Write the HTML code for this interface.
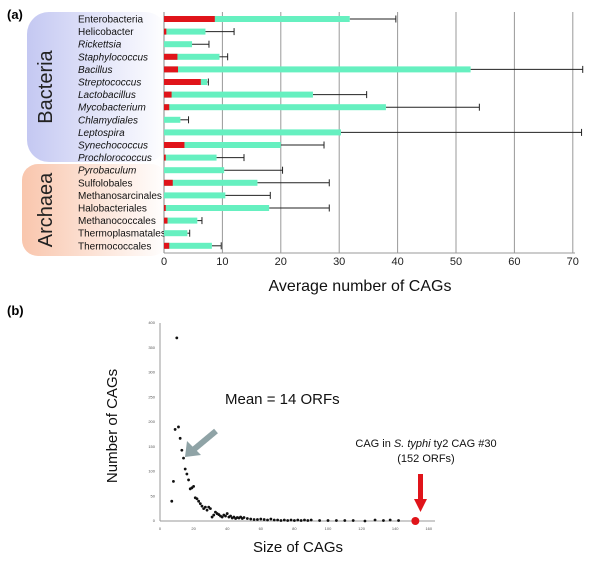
<!DOCTYPE html>
<html><head><meta charset="utf-8"><style>
body{margin:0;background:#fff;font-family:"Liberation Sans",sans-serif}
svg text{font-family:"Liberation Sans",sans-serif}
</style></head><body>
<svg width="600" height="562" viewBox="0 0 600 562">
<defs>
<linearGradient id="gb" x1="0" x2="1"><stop offset="0" stop-color="#c4c8f2"/><stop offset="1" stop-color="#fff"/></linearGradient>
<linearGradient id="ga" x1="0" x2="1"><stop offset="0" stop-color="#f9c6ad"/><stop offset="1" stop-color="#fff"/></linearGradient>
</defs>
<text x="7" y="19" font-size="13" font-weight="bold">(a)</text>
<rect x="27" y="12" width="140" height="150" rx="22" fill="url(#gb)"/>
<rect x="22" y="164" width="145" height="92" rx="16" fill="url(#ga)"/>
<text transform="translate(52,87) rotate(-90)" font-size="20" text-anchor="middle" fill="#222">Bacteria</text>
<text transform="translate(52,210) rotate(-90)" font-size="20" text-anchor="middle" fill="#222">Archaea</text>
<g id="gA"></g>
<text x="360" y="291" font-size="16" text-anchor="middle" fill="#111">Average number of CAGs</text>
<text x="7" y="315" font-size="13" font-weight="bold">(b)</text>
<g id="gB"></g>
<text transform="translate(117,426) rotate(-90)" font-size="15" text-anchor="middle" fill="#111">Number of CAGs</text>
<text x="298" y="552" font-size="15" text-anchor="middle" fill="#111">Size of CAGs</text>
<text x="225" y="404" font-size="15" fill="#111">Mean = 14 ORFs</text>
<g>
<line x1="216" y1="431" x2="192" y2="451" stroke="#8fa3a6" stroke-width="6"/>
<polygon points="185,457 187,441 201,455" fill="#8fa3a6"/>
</g>
<text x="426" y="447" font-size="11" text-anchor="middle" fill="#111">CAG in <tspan font-style="italic">S. typhi</tspan> ty2 CAG #30</text>
<text x="426" y="462" font-size="11" text-anchor="middle" fill="#111">(152 ORFs)</text>
<g>
<rect x="418" y="474" width="5" height="28" fill="#e0141a"/>
<polygon points="414,499 427,499 420.5,512" fill="#e0141a"/>
</g>
</svg>
<script>
const taxa=["Enterobacteria","Helicobacter","Rickettsia","Staphylococcus","Bacillus","Streptococcus","Lactobacillus","Mycobacterium","Chlamydiales","Leptospira","Synechococcus","Prochlorococcus","Pyrobaculum","Sulfolobales","Methanosarcinales","Halobacteriales","Methanococcales","Thermoplasmatales","Thermococcales"];
const italic=[0,0,1,1,1,1,1,1,1,1,1,1,1,0,0,0,0,0,0];
const redVals=[8.7,0.4,0,2.3,2.4,6.3,1.3,0.9,0,0,3.5,0.3,0,1.5,0,0.3,0.6,0,0.9];
const totalVals=[31.8,7.1,4.8,9.5,52.5,7.4,25.5,38,2.8,30.3,20,9,10.3,16,10.5,18,5.7,4,8.2];
const errVals=[39.7,12,7.7,10.9,71.7,7.6,34.7,54,4.2,71.5,27.4,13.7,20.3,28.3,18.2,28.3,6.5,4.4,9.8];
const xTicksA=[0,10,20,30,40,50,60,70];
const sizes=[7,8,9,10,11,12,13,14,15,16,17,18,19,20,21,22,23,24,25,26,27,28,29,30,31,32,33,34,35,36,37,38,39,40,41,42,43,44,45,46,47,48,49,50,52,54,56,58,60,62,64,66,68,70,72,74,76,78,80,82,84,86,88,90,95,100,105,110,115,122,128,133,137,142];
const counts=[40,80,185,370,190,167,143,127,105,95,83,65,67,70,47,45,40,35,30,25,28,22,28,25,8,12,18,15,13,10,8,12,10,15,8,10,6,8,5,7,6,8,5,7,5,4,3,3,4,3,2,4,2,2,1,2,1,2,1,2,1,2,1,2,1,1,1,1,1,0,2,1,2,1];
const highlight=[152,0];
const xTicksB=[0,20,40,60,80,100,120,140,160];
const yTicksB=[0,50,100,150,200,250,300,350,400];
const NS="http://www.w3.org/2000/svg";
function mk(p,t,a){const e=document.createElementNS(NS,t);for(const k in a)e.setAttribute(k,a[k]);p.appendChild(e);return e;}
const gA=document.getElementById('gA');
const xA=v=>164+v*5.84, yA=i=>19+i*12.6;
xTicksA.forEach(t=>{
 const l=mk(gA,'line',{x1:xA(t),x2:xA(t),y1:12,y2:253,stroke:t==0?'#888':'#999','stroke-width':1});
 
 
 const tx=mk(gA,'text',{x:xA(t),y:265,'font-size':11,'text-anchor':'middle',fill:'#222'});tx.textContent=t;
 
 
});
mk(gA,'line',{x1:164,x2:575,y1:253,y2:253,stroke:'#999'});
taxa.forEach((n,i)=>{
 const y=yA(i);
 const lb=mk(gA,'text',{x:78,y:y+3.5,'font-size':10,fill:'#111','font-style':italic[i]?'italic':'normal'});lb.textContent=n;
 
 
 const er=mk(gA,'line',{x1:xA(totalVals[i]),x2:xA(errVals[i]),y1:y,y2:y,stroke:'#222','stroke-width':1});
 
 
 mk(gA,'line',{x1:xA(errVals[i]),x2:xA(errVals[i]),y1:y-3.5,y2:y+3.5,stroke:'#222','stroke-width':1});
 const g=mk(gA,'rect',{x:xA(0),y:y-3,width:xA(totalVals[i])-xA(0),height:6,fill:'#66f0c0'});
 
 
 if(redVals[i]>0){const r=mk(gA,'rect',{x:xA(0),y:y-3,width:xA(redVals[i])-xA(0),height:6,fill:'#e0141a'});
 
 }
});
const gB=document.getElementById('gB');
const xB=v=>160+v*1.68, yB=v=>521-v*0.495;
mk(gB,'line',{x1:160,x2:435,y1:521,y2:521,stroke:'#999'});
mk(gB,'line',{x1:160,x2:160,y1:yB(400),y2:521,stroke:'#999'});
xTicksB.forEach(t=>{const tx=mk(gB,'text',{x:xB(t),y:530,'font-size':4,'text-anchor':'middle',fill:'#555'});tx.textContent=t;
 
 });
yTicksB.forEach(t=>{const tx=mk(gB,'text',{x:155,y:yB(t)+1,'font-size':4,'text-anchor':'end',fill:'#555'});tx.textContent=t;
 
 });
sizes.forEach((s,i)=>{const c=mk(gB,'circle',{cx:xB(s),cy:yB(counts[i]),r:1.4,fill:'#111'});
 
 });
const hc=mk(gB,'circle',{cx:xB(highlight[0]),cy:yB(highlight[1]),r:4,fill:'#e0141a'});


</script>
</body></html>
